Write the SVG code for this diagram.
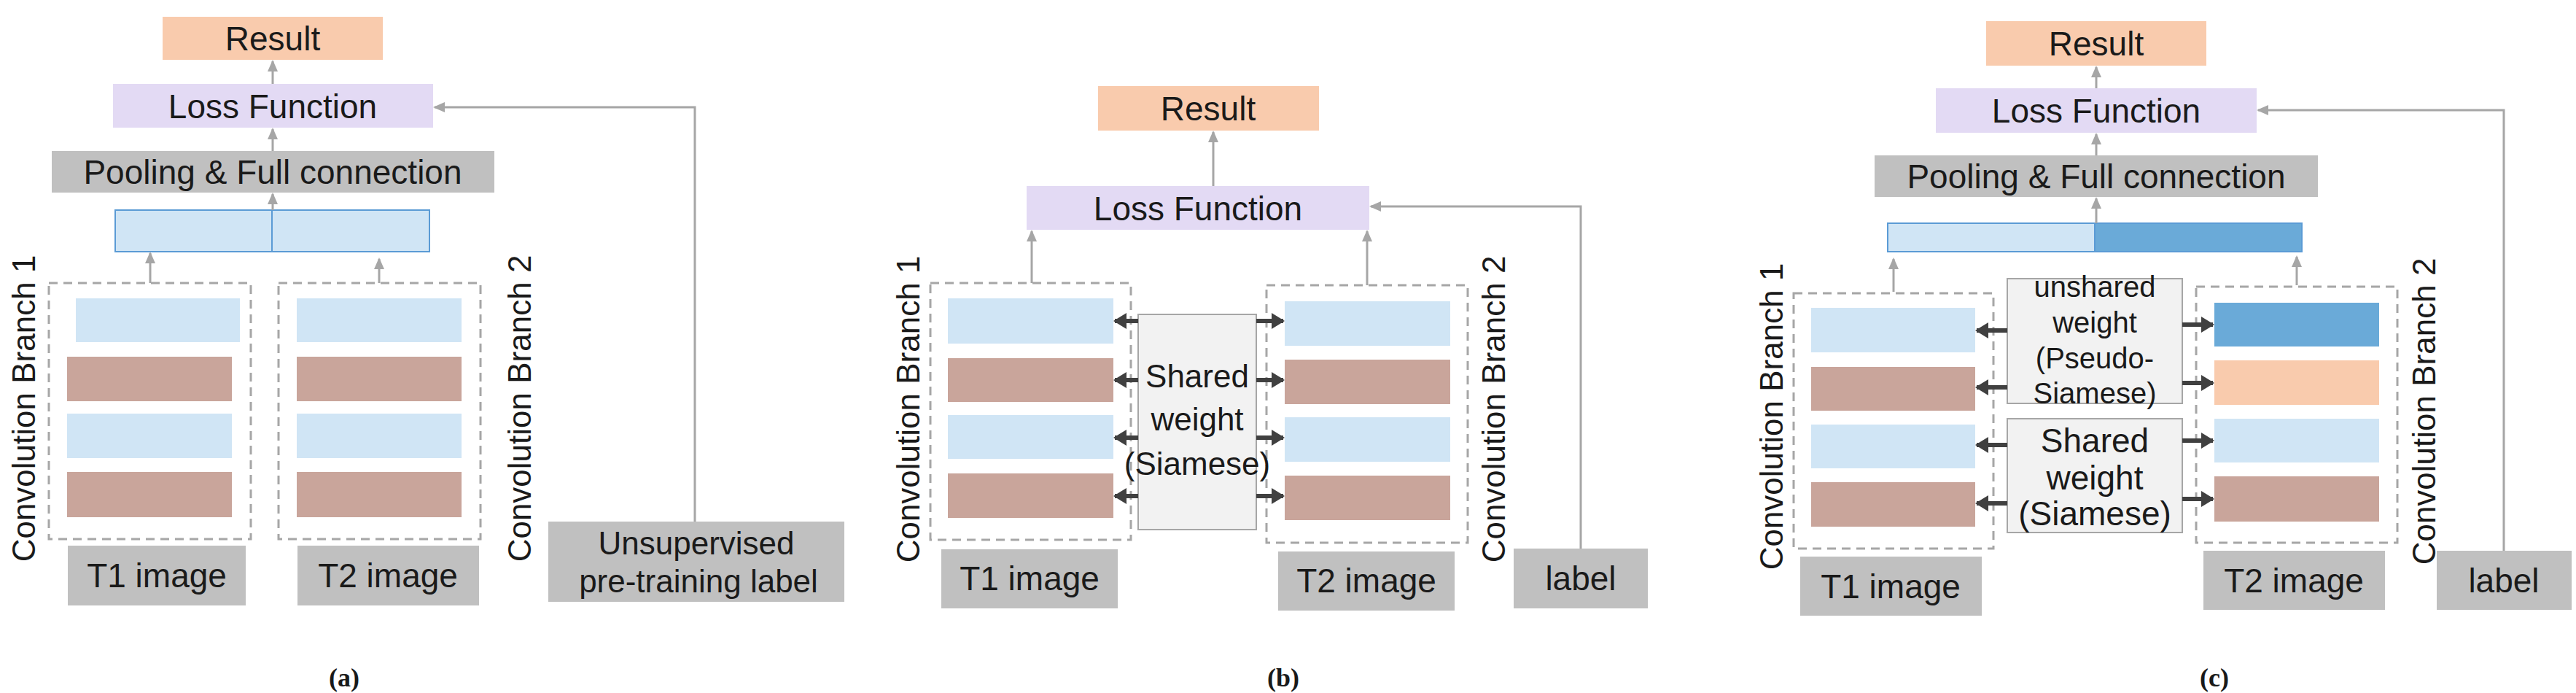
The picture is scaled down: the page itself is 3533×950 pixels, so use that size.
<svg xmlns="http://www.w3.org/2000/svg" width="3533" height="950" viewBox="0 0 3533 950">
<style>
text{font-family:"Liberation Sans",Arial,sans-serif;fill:#1a1a1a;text-anchor:middle;dominant-baseline:central}
.res{fill:#f9cbad}.loss{fill:#e3daf4}.gray{fill:#c0c0c0}.lb{fill:#d0e5f5}.br{fill:#c9a59b}.db{fill:#6aaad8}
.bar{stroke:#5b9bd5;stroke-width:2}
.dash{fill:none;stroke:#a6a6a6;stroke-width:3;stroke-dasharray:12 8}
.w{fill:#f2f2f2;stroke:#a6a6a6;stroke-width:2}
.c{fill:none;stroke:#a6a6a6;stroke-width:3;marker-end:url(#ga)}
.d{fill:none;stroke:#404040;stroke-width:6;marker-end:url(#da)}
.t46{font-size:46px}.t44{font-size:44px}.t40{font-size:40px}
.cap{font-family:"Liberation Serif","Times New Roman",serif;font-weight:bold;font-size:36px}
</style>
<defs>
<marker id="ga" markerUnits="userSpaceOnUse" markerWidth="16" markerHeight="16" refX="14" refY="8" orient="auto"><path d="M0,1 L16,8 L0,15 Z" fill="#a6a6a6"/></marker>
<marker id="da" markerUnits="userSpaceOnUse" markerWidth="18" markerHeight="22" refX="16" refY="11" orient="auto"><path d="M0,0 L18,11 L0,22 Z" fill="#404040"/></marker>
</defs>

<!-- Panel a -->
<g id="a-result"><rect class="res" x="223" y="23" width="302" height="59"/><text class="t46" x="374" y="53">Result</text></g>
<g id="a-loss"><rect class="loss" x="155" y="115" width="439" height="60"/><text class="t46" x="374" y="146">Loss Function</text></g>
<g id="a-pool"><rect class="gray" x="71" y="207" width="607" height="57"/><text class="t46" x="374" y="236">Pooling &amp; Full connection</text></g>
<g id="a-bar"><rect class="lb bar" x="158" y="288" width="215" height="57"/><rect class="lb bar" x="373" y="288" width="216" height="57"/></g>
<g id="a-branch1"><rect class="dash" x="67" y="388" width="277" height="351"/>
<rect class="lb" x="104" y="409" width="225" height="60"/><rect class="br" x="92" y="489" width="226" height="61"/><rect class="lb" x="92" y="567" width="226" height="61"/><rect class="br" x="92" y="647" width="226" height="62"/>
<text class="t44" transform="translate(32,560) rotate(-90)">Convolution Branch 1</text></g>
<g id="a-branch2"><rect class="dash" x="382" y="388" width="277" height="351"/>
<rect class="lb" x="407" y="409" width="226" height="60"/><rect class="br" x="407" y="489" width="226" height="61"/><rect class="lb" x="407" y="567" width="226" height="61"/><rect class="br" x="407" y="647" width="226" height="62"/>
<text class="t44" transform="translate(712,560) rotate(-90)">Convolution Branch 2</text></g>
<g id="a-t1"><rect class="gray" x="93" y="748" width="244" height="82"/><text class="t46" x="215" y="789">T1 image</text></g>
<g id="a-t2"><rect class="gray" x="408" y="748" width="249" height="82"/><text class="t46" x="532" y="789">T2 image</text></g>
<g id="a-unsup"><rect class="gray" x="752" y="715" width="406" height="110"/><text class="t44" x="955" y="744">Unsupervised</text><text class="t44" x="958" y="796">pre-training label</text></g>
<text class="cap" x="472" y="929">(a)</text>

<!-- Panel b -->
<g id="b-result"><rect class="res" x="1506" y="118" width="303" height="61"/><text class="t46" x="1657" y="149">Result</text></g>
<g id="b-loss"><rect class="loss" x="1408" y="255" width="470" height="60"/><text class="t46" x="1643" y="286">Loss Function</text></g>
<g id="b-branch1"><rect class="dash" x="1276" y="388" width="275" height="352"/>
<rect class="lb" x="1300" y="409" width="227" height="62"/><rect class="br" x="1300" y="491" width="227" height="60"/><rect class="lb" x="1300" y="569" width="227" height="60"/><rect class="br" x="1300" y="649" width="227" height="61"/>
<text class="t44" transform="translate(1245,561) rotate(-90)">Convolution Branch 1</text></g>
<g id="b-branch2"><rect class="dash" x="1737" y="391" width="276" height="353"/>
<rect class="lb" x="1762" y="413" width="227" height="61"/><rect class="br" x="1762" y="493" width="227" height="61"/><rect class="lb" x="1762" y="572" width="227" height="61"/><rect class="br" x="1762" y="652" width="227" height="61"/>
<text class="t44" transform="translate(2048,561) rotate(-90)">Convolution Branch 2</text></g>
<g id="b-shared"><rect class="w" x="1561" y="431" width="162" height="295"/><text class="t44" x="1642" y="515">Shared</text><text class="t44" x="1642" y="574">weight</text><text class="t44" x="1642" y="635">(Siamese)</text></g>
<g id="b-t1"><rect class="gray" x="1291" y="753" width="242" height="81"/><text class="t46" x="1412" y="793">T1 image</text></g>
<g id="b-t2"><rect class="gray" x="1753" y="756" width="242" height="81"/><text class="t46" x="1874" y="796">T2 image</text></g>
<g id="b-label"><rect class="gray" x="2076" y="752" width="184" height="82"/><text class="t46" x="2168" y="793">label</text></g>
<text class="cap" x="1760" y="929">(b)</text>

<!-- Panel c -->
<g id="c-result"><rect class="res" x="2724" y="29" width="302" height="61"/><text class="t46" x="2875" y="60">Result</text></g>
<g id="c-loss"><rect class="loss" x="2655" y="121" width="440" height="61"/><text class="t46" x="2875" y="152">Loss Function</text></g>
<g id="c-pool"><rect class="gray" x="2571" y="213" width="608" height="57"/><text class="t46" x="2875" y="242">Pooling &amp; Full connection</text></g>
<g id="c-bar"><rect class="lb bar" x="2589" y="306" width="284" height="39"/><rect class="db bar" x="2873" y="306" width="284" height="39"/></g>
<g id="c-branch1"><rect class="dash" x="2460" y="402" width="274" height="350"/>
<rect class="lb" x="2484" y="422" width="225" height="61"/><rect class="br" x="2484" y="503" width="225" height="60"/><rect class="lb" x="2484" y="582" width="225" height="60"/><rect class="br" x="2484" y="661" width="225" height="61"/>
<text class="t44" transform="translate(2429,571) rotate(-90)">Convolution Branch 1</text></g>
<g id="c-branch2"><rect class="dash" x="3012" y="393" width="276" height="351"/>
<rect class="db" x="3037" y="415" width="226" height="60"/><rect class="res" x="3037" y="494" width="226" height="61"/><rect class="lb" x="3037" y="574" width="226" height="60"/><rect class="br" x="3037" y="653" width="226" height="62"/>
<text class="t44" transform="translate(3324,564) rotate(-90)">Convolution Branch 2</text></g>
<g id="c-unshared"><rect class="w" x="2753" y="382" width="240" height="171"/><text class="t40" x="2873" y="393">unshared</text><text class="t40" x="2873" y="442">weight</text><text class="t40" x="2873" y="491">(Pseudo-</text><text class="t40" x="2873" y="539">Siamese)</text></g>
<g id="c-shared"><rect class="w" x="2753" y="574" width="240" height="156"/><text class="t46" x="2873" y="604">Shared</text><text class="t46" x="2873" y="655">weight</text><text class="t46" x="2873" y="704">(Siamese)</text></g>
<g id="c-t1"><rect class="gray" x="2469" y="763" width="249" height="81"/><text class="t46" x="2593" y="804">T1 image</text></g>
<g id="c-t2"><rect class="gray" x="3022" y="755" width="249" height="81"/><text class="t46" x="3146" y="796">T2 image</text></g>
<g id="c-label"><rect class="gray" x="3342" y="755" width="185" height="81"/><text class="t46" x="3434" y="796">label</text></g>
<text class="cap" x="3037" y="929">(c)</text>

<g id="connectors">
<path class="c" d="M374,115 V84"/><path class="c" d="M374,207 V177"/><path class="c" d="M374,288 V266"/>
<path class="c" d="M206,388 V347"/><path class="c" d="M520,388 V355"/>
<path class="c" d="M953,715 V147 H596"/>
<path class="c" d="M1664,255 V181"/><path class="c" d="M1415,388 V317"/><path class="c" d="M1875,391 V317"/>
<path class="c" d="M2168,752 V283 H1880"/>
<path class="c" d="M2875,121 V92"/><path class="c" d="M2875,213 V184"/><path class="c" d="M2875,306 V272"/>
<path class="c" d="M2597,400 V355"/><path class="c" d="M3150,391 V352"/>
<path class="c" d="M3434,755 V151 H3097"/>
<path class="d" d="M1561,440 H1529"/><path class="d" d="M1561,521 H1529"/><path class="d" d="M1561,600 H1529"/><path class="d" d="M1561,680 H1529"/>
<path class="d" d="M1723,440 H1760"/><path class="d" d="M1723,521 H1760"/><path class="d" d="M1723,600 H1760"/><path class="d" d="M1723,680 H1760"/>
<path class="d" d="M2753,453 H2711"/><path class="d" d="M2753,531 H2711"/><path class="d" d="M2753,610 H2711"/><path class="d" d="M2753,690 H2711"/>
<path class="d" d="M2993,445 H3035"/><path class="d" d="M2993,525 H3035"/><path class="d" d="M2993,604 H3035"/><path class="d" d="M2993,684 H3035"/>
</g>
</svg>
